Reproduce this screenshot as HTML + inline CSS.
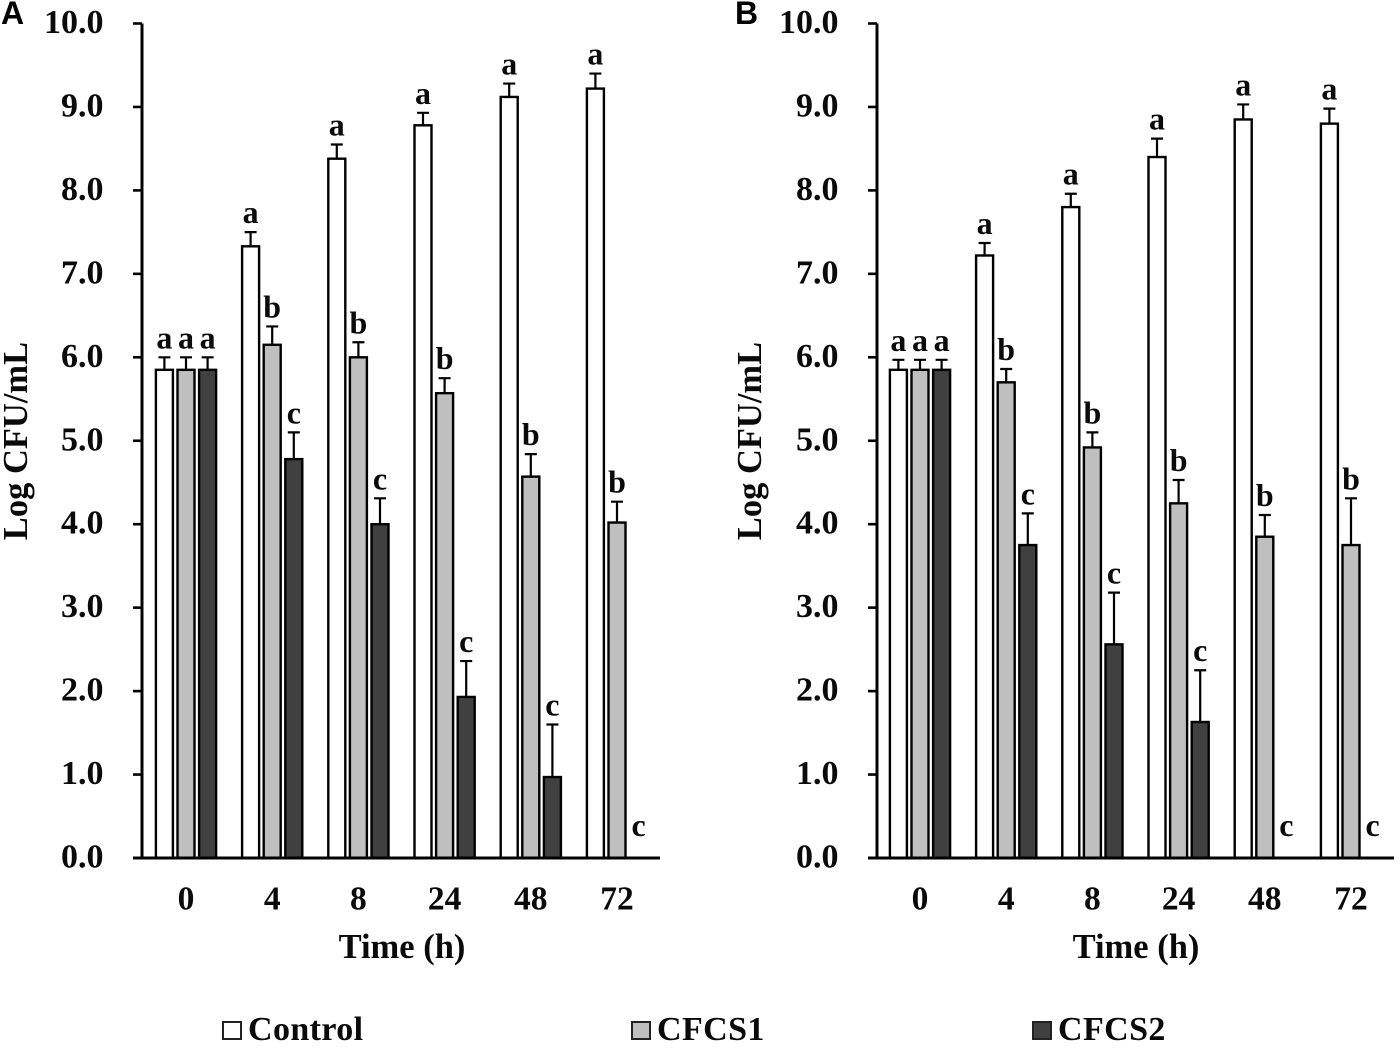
<!DOCTYPE html>
<html lang="en">
<head>
<meta charset="utf-8">
<title>Log CFU/mL over time</title>
<style>
html,body{margin:0;padding:0;background:#fff;width:1400px;height:1054px;overflow:hidden}
svg{display:block;filter:blur(0.35px)}
text{font-family:"Liberation Serif",serif;font-weight:bold;fill:#0a0a0a}
</style>
</head>
<body>
<svg id="chart" width="1400" height="1054" viewBox="0 0 1400 1054" xmlns="http://www.w3.org/2000/svg"></svg>
<script>
const timeLabels = ['0', '4', '8', '24', '48', '72'];
const yTickValues = [0, 1, 2, 3, 4, 5, 6, 7, 8, 9, 10];
const seriesNames = ['Control', 'CFCS1', 'CFCS2'];

const panelAControl = [5.85, 7.33, 8.38, 8.78, 9.12, 9.22];
const panelAControlErrTop = [6.0, 7.5, 8.55, 8.93, 9.28, 9.4];
const panelACfcs1 = [5.85, 6.15, 6.0, 5.57, 4.57, 4.02];
const panelACfcs1ErrTop = [6.0, 6.37, 6.18, 5.75, 4.84, 4.27];
const panelACfcs2 = [5.85, 4.78, 4.0, 1.93, 0.97, 0];
const panelACfcs2ErrTop = [6.0, 5.1, 4.31, 2.36, 1.6, 0];

const panelBControl = [5.85, 7.22, 7.8, 8.4, 8.85, 8.8];
const panelBControlErrTop = [5.97, 7.37, 7.96, 8.62, 9.03, 8.98];
const panelBCfcs1 = [5.85, 5.7, 4.92, 4.25, 3.85, 3.75];
const panelBCfcs1ErrTop = [5.97, 5.86, 5.1, 4.53, 4.11, 4.31];
const panelBCfcs2 = [5.85, 3.75, 2.56, 1.63, 0, 0];
const panelBCfcs2ErrTop = [5.97, 4.13, 3.18, 2.25, 0, 0];

const panelALetters = [['a','a','a'],['a','b','c'],['a','b','c'],['a','b','c'],['a','b','c'],['a','b','c']];
const panelBLetters = [['a','a','a'],['a','b','c'],['a','b','c'],['a','b','c'],['a','b','c'],['a','b','c']];

const NS = 'http://www.w3.org/2000/svg';
const svg = document.getElementById('chart');
const Y0 = 858, Y10 = 23.5, GROUP = 86.2, OFFSET = 21.6, BAR_W = 17;
const FILLS = ['#ffffff', '#bfbfbf', '#404040'];
const yScale = v => Y0 - (Y0 - Y10) * v / 10;

function make(tag, attrs, parent, txt) {
  const el = document.createElementNS(NS, tag);
  for (const k in attrs) el.setAttribute(k, attrs[k]);
  if (txt !== undefined) el.textContent = txt;
  parent.appendChild(el);
  return el;
}

function drawPanel(cfg) {
  const g = make('g', {}, svg);
  
  
  const xScale = i => cfg.firstGroup + GROUP * i;

  const panelLabel = make('text', {x: cfg.labelX, y: 24, style: 'font-family:"Liberation Sans",sans-serif;font-size:32px;fill:#000'}, g, cfg.id);
  
  

  cfg.series.forEach((vals, s) => {
    vals.forEach((v, i) => {
      const cx = xScale(i) + (s - 1) * OFFSET;
      const groupName = seriesNames[s].toLowerCase() + '-' + timeLabels[i] + 'h';
      if (v > 0) {
        const bar = make('rect', {x: cx - BAR_W / 2, y: yScale(v), width: BAR_W, height: Y0 - yScale(v), fill: FILLS[s], stroke: '#000', 'stroke-width': 2.4}, g);
        
        
        const tipY = yScale(cfg.errTop[s][i]);
        const err = make('path', {d: 'M' + cx + ' ' + yScale(v) + 'V' + tipY + 'M' + (cx - 6) + ' ' + tipY + 'H' + (cx + 6), stroke: '#000', 'stroke-width': 2.2, fill: 'none'}, g);
        
        
      }
      const labelY = yScale(cfg.errTop[s][i]) - (v > 0 ? 9 : 22);
      const letter = make('text', {x: cx, y: labelY, 'text-anchor': 'middle', 'font-size': 32}, g, cfg.letters[i][s]);
      
      
    });
  });

  const axisY = make('path', {d: 'M' + cfg.axisX + ' ' + Y10 + 'V' + Y0, stroke: '#000', 'stroke-width': 3, fill: 'none'}, g);
  
  
  const axisX = make('path', {d: 'M' + (cfg.axisX - 9) + ' ' + Y0 + 'H' + cfg.axisEnd, stroke: '#000', 'stroke-width': 3, fill: 'none'}, g);
  
  

  yTickValues.forEach(v => {
    const tick = make('path', {d: 'M' + (cfg.axisX - 9) + ' ' + yScale(v) + 'H' + cfg.axisX, stroke: '#000', 'stroke-width': 2.6}, g);
    
    
    const lab = make('text', {x: cfg.axisX - 38.5, y: yScale(v) + 9.5, 'text-anchor': 'end', 'font-size': 34}, g, v.toFixed(1));
    
    
  });

  timeLabels.forEach((t, i) => {
    const lab = make('text', {x: xScale(i), y: 909.5, 'text-anchor': 'middle', 'font-size': 33.5}, g, t);
    
    
  });

  const xTitle = make('text', {x: cfg.firstGroup + 216, y: 958, 'text-anchor': 'middle', 'font-size': 34.5}, g, 'Time (h)');
  
  

  const yTitle = make('text', {transform: 'translate(' + cfg.yTitleX + ' 441) rotate(-90)', 'text-anchor': 'middle', 'font-size': 34.5}, g, 'Log CFU/mL');
  
  
}

drawPanel({
  id: 'A', labelX: 1, firstGroup: 186, axisX: 142, axisEnd: 660, yTitleX: 27,
  series: [panelAControl, panelACfcs1, panelACfcs2],
  errTop: [panelAControlErrTop, panelACfcs1ErrTop, panelACfcs2ErrTop],
  letters: panelALetters
});
drawPanel({
  id: 'B', labelX: 735, firstGroup: 920, axisX: 877, axisEnd: 1394, yTitleX: 761,
  series: [panelBControl, panelBCfcs1, panelBCfcs2],
  errTop: [panelBControlErrTop, panelBCfcs1ErrTop, panelBCfcs2ErrTop],
  letters: panelBLetters
});

const legend = make('g', {}, svg);


[223, 632, 1033].forEach((x, s) => {
  const swatch = make('rect', {x: x, y: 1022, width: 18, height: 17, fill: FILLS[s], stroke: '#222', 'stroke-width': 2}, legend);
  
  
  const label = make('text', {x: x + 25, y: 1040, 'font-size': 34, 'letter-spacing': 0.4, fill: '#222'}, legend, seriesNames[s]);
  
  
});
</script>
</body>
</html>
